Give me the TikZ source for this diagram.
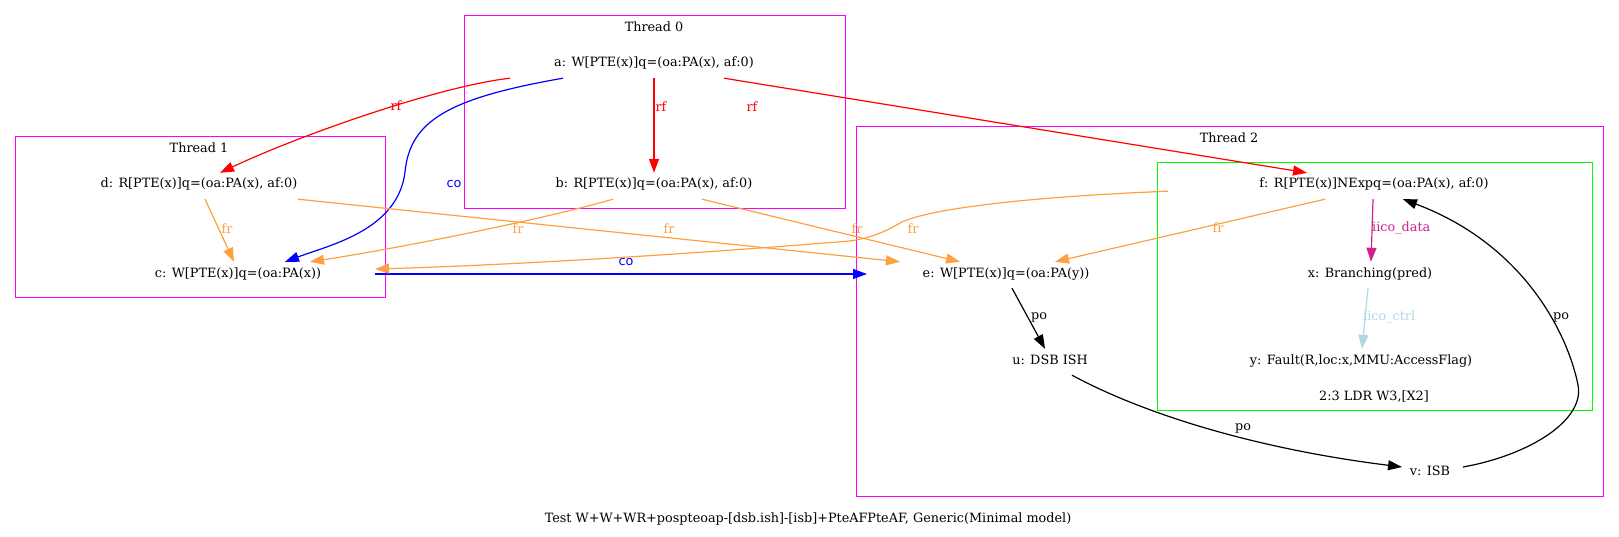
\documentclass[tikz,border=0pt]{standalone}
\usepackage{fontspec}
\setmainfont{DejaVu Serif}
\newfontfamily\lblsans{DejaVu Sans}
\usepackage{tikz}
\usetikzlibrary{arrows.meta}
\definecolor{mmag}{rgb}{1, 0, 1}
\definecolor{mgreen}{rgb}{0, 1, 0}
\definecolor{mfr}{HTML}{FFA040}
\definecolor{mdata}{HTML}{D02090}
\definecolor{mctrl}{HTML}{ADD8E6}
\newcommand{\gvfont}{\fontsize{12.8}{15}\selectfont}
\tikzset{ev/.style = {inner sep = 0, text height = 15pt, text depth = 11pt, anchor = base, font = \gvfont}}
\tikzset{lbl/.style = {inner sep = 0, font = \gvfont}}
\tikzset{cluster/.style = {draw = mmag, line width = 1pt}}
\tikzset{gvedge/.style = {line width = 1.2pt, -{Triangle[length = 14pt, width = 10pt]}}}

\begin{document}
\begin{tikzpicture}[x = 1pt, y = -1pt]
    \useasboundingbox (0, 0) rectangle (1619, 537);

    % clusters
    \draw [cluster] (464, 16) rectangle (845, 209);
    \node [lbl] (t0) at (654, 27) {Thread 0};
    \draw [cluster] (15, 137) rectangle (385, 297);
    \node [lbl] (t1) at (199, 148) {Thread 1};
    \draw [cluster] (856, 127) rectangle (1603, 496);
    \node [lbl] (t2) at (1229, 138) {Thread 2};
    \draw [draw = mgreen, line width = 1pt] (1157, 163) rectangle (1592, 410);
    \node [lbl] (ldr) at (1374, 397) {2:3 LDR W3,[X2]};

    % events
    \node [ev] (a) at (654, 67) {a: W[PTE(x)]q=(oa:PA(x), af:0)};
    \node [ev] (b) at (654, 188) {b: R[PTE(x)]q=(oa:PA(x), af:0)};
    \node [ev] (d) at (199, 188) {d: R[PTE(x)]q=(oa:PA(x), af:0)};
    \node [ev] (c) at (238, 277) {c: W[PTE(x)]q=(oa:PA(x))};
    \node [ev] (e) at (1006, 277) {e: W[PTE(x)]q=(oa:PA(y))};
    \node [ev] (u) at (1050, 364) {u: DSB ISH};
    \node [ev] (v) at (1430, 475) {v: ISB};
    \node [ev] (f) at (1374, 188) {f: R[PTE(x)]NExpq=(oa:PA(x), af:0)};
    \node [ev] (x) at (1370, 277) {x: Branching(pred)};
    \node [ev] (y) at (1361, 364) {y: Fault(R,loc:x,MMU:AccessFlag)};

    % rf
    \draw [gvedge, red] ([xshift = -144pt]a.south) .. controls (440, 86) and (300, 135) .. ([xshift = 21pt]d.north);
    \node [lbl, red] (lad) at (396, 106) {rf};
    \draw [gvedge, red] (a.south) -- (b.north);
    \node [lbl, red] (lab) at (661, 107) {rf};
    \draw [gvedge, red] ([xshift = 70pt]a.south) -- ([xshift = -67pt]f.north);
    \node [lbl, red] (laf) at (752, 107) {rf};

    % co
    \draw [gvedge, blue] ([xshift = -91pt]a.south) .. controls (450, 98) and (410, 120) .. (405, 172)
        .. controls (398, 230) and (330, 245) .. ([xshift = 47pt]c.north);
    \node [lbl, blue, font = \lblsans\gvfont] (lac) at (454, 184) {co};
    \draw [gvedge, blue] ([xshift = 137pt, yshift = 3pt]c.base) -- ([xshift = -139pt, yshift = 3pt]e.base);
    \node [lbl, blue, font = \lblsans\gvfont] (lce) at (626, 262) {co};

    % fr
    \draw [gvedge, mfr] ([xshift = 6pt]d.south) -- ([xshift = -4pt]c.north);
    \node [lbl, mfr] (ldc) at (227, 229) {fr};
    \draw [gvedge, mfr] ([xshift = 99pt]d.south) -- ([xshift = -106pt]e.north);
    \node [lbl, mfr] (lde) at (669, 229) {fr};
    \draw [gvedge, mfr] ([xshift = -41pt]b.south) .. controls (540, 220) and (400, 248) .. ([xshift = 72pt]c.north);
    \node [lbl, mfr] (lbc) at (518, 229) {fr};
    \draw [gvedge, mfr] ([xshift = 48pt]b.south) -- ([xshift = -46pt]e.north);
    \node [lbl, mfr] (lbe) at (857, 229) {fr};
    \draw [gvedge, mfr] ([xshift = -206pt, yshift = 8pt]f.south) .. controls (1000, 198) and (920, 212) .. (900, 223)
        .. controls (885, 232) and (870, 238) .. (850, 241)
        .. controls (640, 258) and (480, 266) .. ([xshift = 137pt, yshift = 8pt]c.base);
    \node [lbl, mfr] (lfc) at (913, 229) {fr};
    \draw [gvedge, mfr] ([xshift = -49pt]f.south) -- ([xshift = 49pt]e.north);
    \node [lbl, mfr] (lfe) at (1218, 228) {fr};

    % iico
    \draw [gvedge, mdata] ([xshift = -1pt]f.south) -- ([xshift = 1pt]x.north);
    \node [lbl, mdata, anchor = west] (lfx) at (1372, 228) {iico\_data};
    \draw [gvedge, mctrl] ([xshift = -2pt]x.south) -- ([xshift = 1pt]y.north);
    \node [lbl, mctrl, anchor = west] (lxy) at (1363, 317) {iico\_ctrl};

    % po
    \draw [gvedge] ([xshift = 6pt]e.south) -- ([xshift = -5pt]u.north);
    \node [lbl] (leu) at (1039, 317) {po};
    \draw [gvedge] ([xshift = 22pt]u.south) .. controls (1140, 412) and (1250, 448) .. ([xshift = -28pt, yshift = 8pt]v.base);
    \node [lbl] (luv) at (1243, 428) {po};
    \draw [gvedge] ([xshift = 33pt, yshift = 8pt]v.base) .. controls (1530, 455) and (1585, 420) .. (1578, 385)
        .. controls (1568, 335) and (1525, 245) .. ([xshift = 29pt]f.south);
    \node [lbl] (lvf) at (1561, 317) {po};

    \node [lbl] (cap) at (808, 519) {Test W+W+WR+pospteoap-[dsb.ish]-[isb]+PteAFPteAF, Generic(Minimal model)};
  \end{tikzpicture}
\end{document}
